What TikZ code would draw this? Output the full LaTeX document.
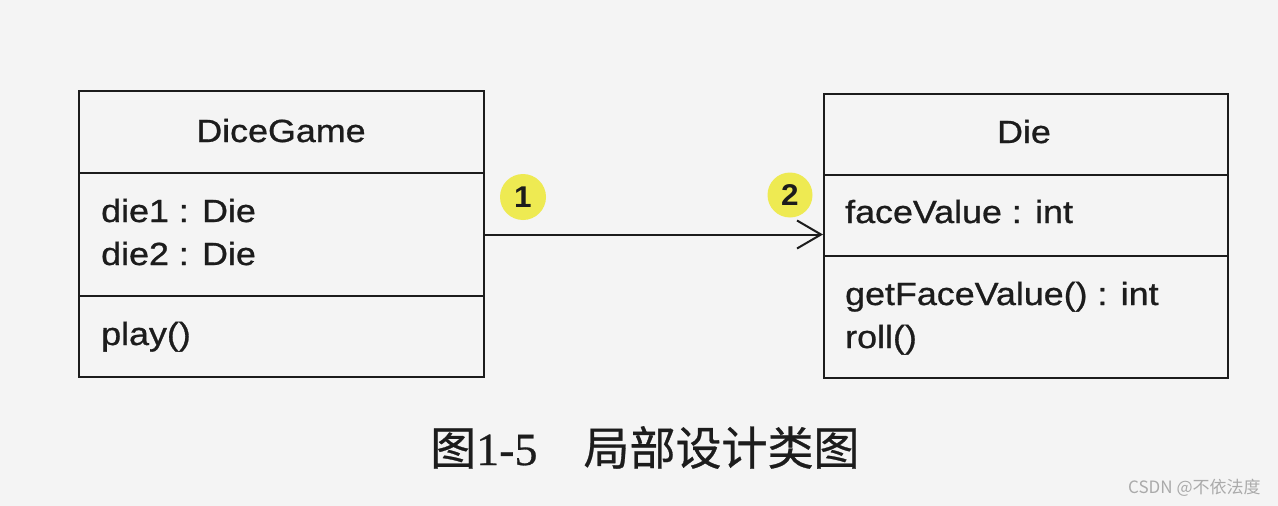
\documentclass[tikz,border=0pt]{standalone}
\usepackage{fontspec}
\setmainfont{Liberation Serif}
\newfontfamily\umlfont[FakeStretch=1.12,FakeBold=0.9]{Liberation Sans}
\newfontfamily\badgefont[FakeStretch=1.05]{Liberation Sans Bold}
\newfontfamily\cjk[FakeBold=0.6]{Noto Sans CJK SC}
\newfontfamily\capdigits[FakeBold=0.6]{Liberation Serif}
\newfontfamily\wmfont{Noto Sans CJK SC}
\usetikzlibrary{arrows.meta}
\definecolor{paper}{RGB}{244,244,244}
\definecolor{ink}{RGB}{28,28,28}
\definecolor{hilite}{RGB}{238,234,82}
\definecolor{wmark}{RGB}{170,170,170}
\tikzset{
  compartment/.style={draw=ink, line width=2pt, rectangle, inner sep=0pt, anchor=north west},
  umltext/.style={font=\umlfont\fontsize{32}{36}\selectfont, text=ink, inner sep=0pt},
  multbadge/.style={circle, fill=hilite, minimum size=46pt, inner sep=0pt,
    font=\badgefont\fontsize{30}{34}\selectfont, text=ink},
  assoc/.style={draw=ink, line width=2pt, -{Straight Barb[length=24pt,width=28pt]}},
}
\begin{document}
\begin{tikzpicture}[x=1pt,y=-1pt]
\fill[paper] (0,0) rectangle (1278,506);
\useasboundingbox (0,0) rectangle (1278,506);

% DiceGame class
\node[compartment, minimum width=405pt, minimum height=82pt] (dgname) at (78,90) {};
\node[compartment, minimum width=405pt, minimum height=123pt] (dgattr) at (78,172) {};
\node[compartment, minimum width=405pt, minimum height=81pt] (dgops) at (78,295) {};
\node[umltext, anchor=base] (dgtitle) at (281,142) {DiceGame};
\node[umltext, anchor=base west] (dgdie1) at (101,222) {die1 : Die};
\node[umltext, anchor=base west] (dgdie2) at (101,265) {die2 : Die};
\node[umltext, anchor=base west] (dgplay) at (101,345) {play()};

% Die class
\node[compartment, minimum width=404pt, minimum height=81pt] (diename) at (823,93) {};
\node[compartment, minimum width=404pt, minimum height=81pt] (dieattr) at (823,174) {};
\node[compartment, minimum width=404pt, minimum height=122pt] (dieops) at (823,255) {};
\node[umltext, anchor=base] (dietitle) at (1024,143) {Die};
\node[umltext, anchor=base west] (dieface) at (845,223) {faceValue : int};
\node[umltext, anchor=base west] (dieget) at (845,305) {getFaceValue() : int};
\node[umltext, anchor=base west] (dieroll) at (845,348) {roll()};

% association
\coordinate (assocend) at (dgattr.east -| dieattr.west);
\draw[assoc] (dgattr.east) -- (assocend);
\node[multbadge] (m1) at (523,197) {1};
\node[multbadge, minimum size=45pt] (m2) at (790,195) {2};

% caption
\node[anchor=base west, inner sep=0pt, text=ink, font=\fontsize{46}{50}\selectfont] (caption) at (430,465)
  {{\cjk 图}{\capdigits 1-5}\hspace{46pt}{\cjk 局部设计类图}};

% watermark
\node[anchor=base west, inner sep=0pt, text=wmark, font=\wmfont\fontsize{17}{20}\selectfont] (wm) at (1128,493)
  {CSDN @不依法度};
\end{tikzpicture}
\end{document}
